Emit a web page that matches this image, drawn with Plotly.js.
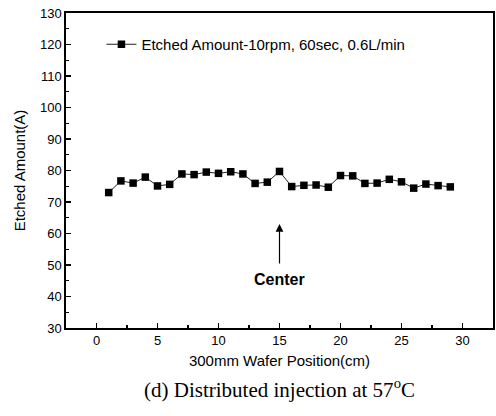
<!DOCTYPE html>
<html>
<head>
<meta charset="utf-8">
<script src="https://cdn.plot.ly/plotly-3.0.1.min.js"></script>
<style>
html,body{margin:0;padding:0;background:#fff;}
#chart{width:496px;height:416px;}
</style>
</head>
<body>
<div id="chart"></div>
<script>
// Data
const positions = [1,2,3,4,5,6,7,8,9,10,11,12,13,14,15,16,17,18,19,20,21,22,23,24,25,26,27,28,29];
const etched = [73.0,76.7,76.0,77.9,75.1,75.6,78.9,78.7,79.5,79.1,79.6,78.9,75.9,76.3,79.7,74.9,75.3,75.4,74.7,78.4,78.3,75.9,76.0,77.2,76.4,74.4,75.7,75.2,74.8];
const xTicks = [0,5,10,15,20,25,30];
const yTicks = [30,40,50,60,70,80,90,100,110,120,130];
const seriesName = "Etched Amount-10rpm, 60sec, 0.6L/min";
const xTitle = "300mm Wafer Position(cm)";
const yTitle = "Etched Amount(A)";
const caption = "(d) Distributed injection at 57<sup>o</sup>C";
const centerX = 15;
const centerLabel = "Center";

const sans = 'Liberation Sans, Arial, sans-serif';

const trace = {
  x: positions, y: etched, name: seriesName,
  type: 'scatter', mode: 'lines+markers',
  line: {color: '#222', width: 1},
  marker: {symbol: 'square', size: 7.5, color: '#000'}
};

const axisCommon = {
  showline: true, linecolor: '#000', linewidth: 1.6, mirror: true,
  ticks: 'inside', ticklen: 5, tickwidth: 1.2, tickcolor: '#000',
  showgrid: false, zeroline: false,
  tickfont: {family: sans, size: 13, color: '#000'}
};

const layout = {
  width: 496, height: 416,
  margin: {l: 66, r: 3, t: 13, b: 88},
  paper_bgcolor: '#fff', plot_bgcolor: '#fff',
  showlegend: true,
  legend: {x: 0.083, y: 0.9, xanchor: 'left', yanchor: 'middle', bgcolor: 'rgba(0,0,0,0)',
           font: {family: sans, size: 15, color: '#000'}},
  xaxis: Object.assign({}, axisCommon, {
    range: [-2.5, 32.5], tickmode: 'array', tickvals: xTicks,
    minor: {tickvals: [2.5,7.5,12.5,17.5,22.5,27.5], ticks: 'inside', ticklen: 3, tickcolor: '#000'},
    title: {text: xTitle, standoff: 8, font: {family: sans, size: 15, color: '#000'}}
  }),
  yaxis: Object.assign({}, axisCommon, {
    range: [30, 130], tickmode: 'array', tickvals: yTicks,
    minor: {tickvals: [35,45,55,65,75,85,95,105,115,125], ticks: 'inside', ticklen: 3, tickcolor: '#000'},
    title: {text: yTitle, standoff: 11, font: {family: sans, size: 15, color: '#000'}}
  }),
  annotations: [
    {x: centerX, y: 63, ax: centerX, ay: 50, xref: 'x', yref: 'y', axref: 'x', ayref: 'y',
     showarrow: true, arrowhead: 2, arrowsize: 1.3, arrowwidth: 1.2, arrowcolor: '#000', text: ''},
    {x: centerX, y: 45.3, xref: 'x', yref: 'y', showarrow: false, text: '<b>' + centerLabel + '</b>',
     font: {family: sans, size: 16, color: '#000'}},
    {x: 0.5, y: -0.192, xref: 'paper', yref: 'paper', xanchor: 'center', yanchor: 'middle',
     showarrow: false, text: caption,
     font: {family: 'Liberation Serif, Times New Roman, serif', size: 21, color: '#000'}}
  ]
};

Plotly.newPlot('chart', [trace], layout, {displayModeBar: false, staticPlot: true});
</script>
</body>
</html>
